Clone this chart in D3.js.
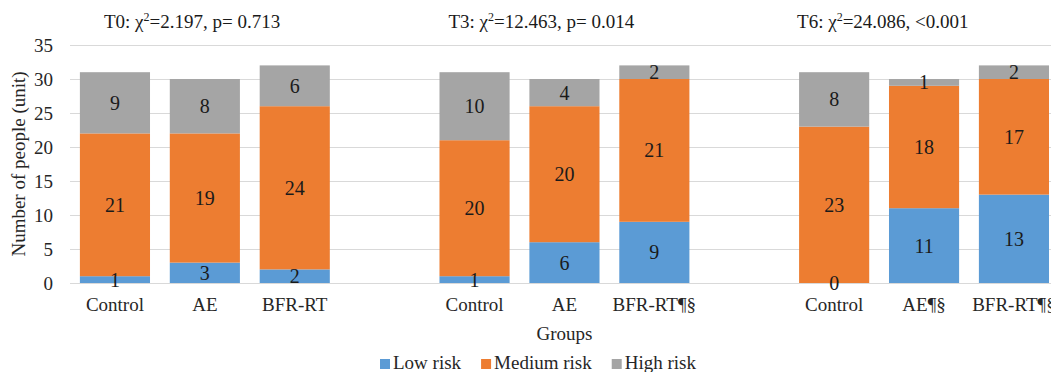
<!DOCTYPE html>
<html>
<head>
<meta charset="utf-8">
<script src="https://cdn.jsdelivr.net/npm/d3@7"></script>
<style>
  body { margin: 0; background: #fff; }
  svg text { font-family: "Times New Roman", "Liberation Serif", "DejaVu Serif", serif; }
</style>
</head>
<body>
<div id="chart"></div>
<script>
// slots: three time points, one empty slot between them
const slots = ["T0-C", "T0-AE", "T0-BFR", "gap1", "T3-C", "T3-AE", "T3-BFR", "gap2", "T6-C", "T6-AE", "T6-BFR"];
const barSlots = ["T0-C", "T0-AE", "T0-BFR", "T3-C", "T3-AE", "T3-BFR", "T6-C", "T6-AE", "T6-BFR"];
const groupLabels = ["Control", "AE", "BFR-RT", "Control", "AE", "BFR-RT¶§", "Control", "AE¶§", "BFR-RT¶§"];
const lowRisk = [1, 3, 2, 1, 6, 9, 0, 11, 13];
const mediumRisk = [21, 19, 24, 20, 20, 21, 23, 18, 17];
const highRisk = [9, 8, 6, 10, 4, 2, 8, 1, 2];
const seriesNames = ["Low risk", "Medium risk", "High risk"];
const seriesColors = ["#5B9BD5", "#ED7D31", "#A5A5A5"];
const yTicks = [0, 5, 10, 15, 20, 25, 30, 35];
const titleStart = ["T0: χ", "T3: χ", "T6: χ"];
const titleEnd = ["=2.197, p= 0.713", "=12.463, p= 0.014", "=24.086, <0.001"];
const titleSlots = ["T0-C", "T3-C", "T6-C"];

const W = 1051, H = 372;
const margin = { top: 45, left: 70, bottom: 89 };
const step = 89.9;
const FONT = "'Times New Roman', 'Liberation Serif', 'DejaVu Serif', serif";

const svg = d3.select("#chart").append("svg")
  .attr("width", W)
  .attr("height", H)
  .attr("font-family", FONT);

const x = d3.scaleBand()
  .domain(slots)
  .range([margin.left, margin.left + step * slots.length])
  .paddingInner(0.22)
  .paddingOuter(0.11);

const y = d3.scaleLinear().domain([0, 35]).range([H - margin.bottom, margin.top]);

// gridlines
svg.append("g")
  .selectAll("line")
  .data(yTicks)
  .join("line")
  .attr("x1", margin.left)
  .attr("x2", W)
  .attr("y1", (d) => Math.round(y(d)) + 0.5)
  .attr("y2", (d) => Math.round(y(d)) + 0.5)
  .attr("stroke", "#D9D9D9")
  .attr("stroke-width", 1);

// y tick labels
svg.append("g")
  .selectAll("text")
  .data(yTicks)
  .join("text")
  .attr("x", margin.left - 17)
  .attr("y", (d) => y(d))
  .attr("dy", "0.35em")
  .attr("text-anchor", "end")
  .attr("font-size", 19)
  .attr("fill", "#262626")
  .text((d) => d);

// stacked bars
const rows = barSlots.map((s, i) => ({ slot: s, low: lowRisk[i], medium: mediumRisk[i], high: highRisk[i] }));
const stack = d3.stack().keys(["low", "medium", "high"])(rows);

const layers = svg.append("g")
  .selectAll("g")
  .data(stack)
  .join("g")
  .attr("fill", (d, i) => seriesColors[i]);

layers.selectAll("rect")
  .data((d) => d)
  .join("rect")
  .attr("x", (d) => x(d.data.slot))
  .attr("width", x.bandwidth())
  .attr("y", (d) => y(d[1]))
  .attr("height", (d) => y(d[0]) - y(d[1]));

// data labels
const labels = svg.append("g");
stack.forEach((layer) => {
  labels.selectAll(null)
    .data(layer)
    .join("text")
    .attr("x", (d) => x(d.data.slot) + x.bandwidth() / 2)
    .attr("y", (d) => y((d[0] + d[1]) / 2))
    .attr("dy", "0.35em")
    .attr("text-anchor", "middle")
    .attr("font-size", 20)
    .attr("fill", "#1a1a1a")
    .text((d) => d.data[layer.key]);
});

// category labels
svg.append("g")
  .selectAll("text")
  .data(barSlots)
  .join("text")
  .attr("x", (d) => x(d) + x.bandwidth() / 2)
  .attr("y", H - margin.bottom + 28)
  .attr("text-anchor", "middle")
  .attr("font-size", 19)
  .attr("fill", "#262626")
  .text((d, i) => groupLabels[i]);

// titles above each time point
const titleOffsets = [24, 9, -2];
const titles = svg.append("g")
  .selectAll("text")
  .data(titleSlots)
  .join("text")
  .attr("x", (d, i) => x(d) + titleOffsets[i])
  .attr("y", 28)
  .attr("font-size", 19)
  .attr("fill", "#1a1a1a");
titles.append("tspan").text((d, i) => titleStart[i]);
titles.append("tspan").attr("font-size", 12).attr("dy", -7).text("2");
titles.append("tspan").attr("dy", 7).text((d, i) => titleEnd[i]);

// axis titles
svg.append("text")
  .attr("transform", `translate(25,${(y(0) + y(35)) / 2}) rotate(-90)`)
  .attr("text-anchor", "middle")
  .attr("font-size", 19)
  .attr("fill", "#262626")
  .text("Number of people (unit)");

svg.append("text")
  .attr("x", (x.range()[0] + x.range()[1]) / 2)
  .attr("y", 340)
  .attr("text-anchor", "middle")
  .attr("font-size", 19)
  .attr("fill", "#262626")
  .text("Groups");

// legend
const legend = svg.append("g").attr("transform", "translate(380,369)");
let lx = 0;
seriesNames.forEach((name, i) => {
  const g = legend.append("g").attr("transform", `translate(${lx},0)`);
  g.append("rect").attr("x", 0).attr("y", -10).attr("width", 10).attr("height", 10).attr("fill", seriesColors[i]);
  const t = g.append("text").attr("x", 13).attr("y", 0).attr("font-size", 19).attr("fill", "#262626").text(name);
  lx += 13 + t.node().getComputedTextLength() + 20;
});
</script>
</body>
</html>
